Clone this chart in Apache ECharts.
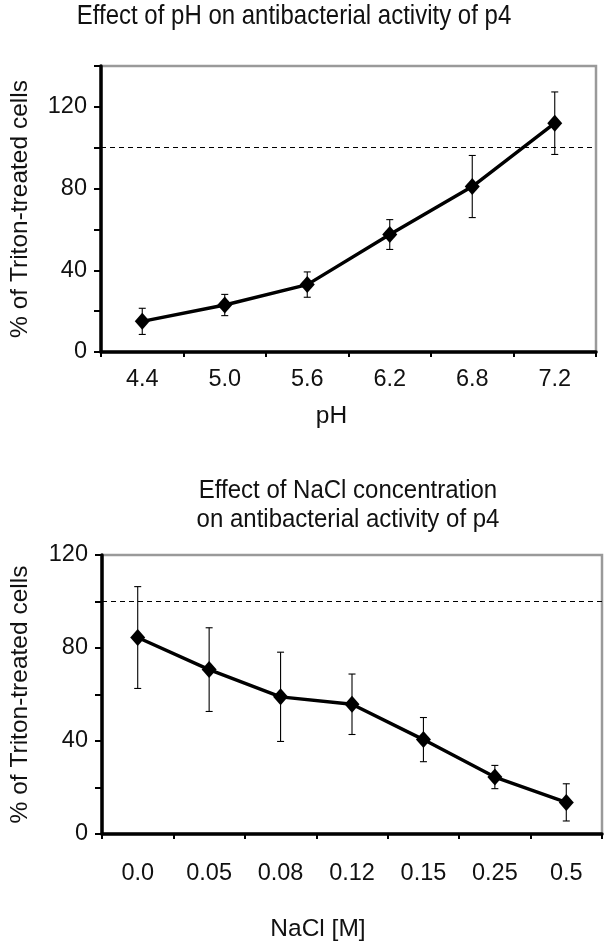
<!DOCTYPE html>
<html>
<head>
<meta charset="utf-8">
<script src="https://cdn.jsdelivr.net/npm/echarts@6/dist/echarts.min.js"></script>
<style>html,body{margin:0;padding:0;background:#fff;}#c{width:609px;height:951px;}</style>
</head>
<body>
<div id="c"></div>
<script>
var phCategories = ['4.4', '5.0', '5.6', '6.2', '6.8', '7.2'];
var phValues = [15, 23, 33, 57.5, 81, 112];
var phErrors = [6.4, 5.2, 6.2, 7.3, 15.2, 15.3];

var naclCategories = ['0.0', '0.05', '0.08', '0.12', '0.15', '0.25', '0.5'];
var naclValues = [84.5, 70.7, 59, 55.8, 40.6, 24.5, 13.6];
var naclErrors = [21.9, 18, 19.2, 13, 9.5, 5, 8];

var yLabelValues = [0, 40, 80, 120];
var referenceLevel = 100;

var FONT = 'Liberation Sans, Arial, sans-serif';
var TXT = '#111';

function errorSeries(idx, values, errors) {
  return {
    type: 'custom',
    xAxisIndex: idx, yAxisIndex: idx,
    z: 3,
    data: values.map(function (v, i) { return [i, v - errors[i], v + errors[i]]; }),
    renderItem: function (params, api) {
      var lo = api.coord([api.value(0), api.value(1)]);
      var hi = api.coord([api.value(0), api.value(2)]);
      var w = 3.5;
      var st = { stroke: '#000', lineWidth: 1.1 };
      return {
        type: 'group',
        children: [
          { type: 'line', shape: { x1: hi[0], y1: hi[1], x2: lo[0], y2: lo[1] }, style: st },
          { type: 'line', shape: { x1: hi[0] - w, y1: hi[1], x2: hi[0] + w, y2: hi[1] }, style: st },
          { type: 'line', shape: { x1: lo[0] - w, y1: lo[1], x2: lo[0] + w, y2: lo[1] }, style: st }
        ]
      };
    }
  };
}

function lineSeries(idx, values) {
  return {
    type: 'line',
    xAxisIndex: idx, yAxisIndex: idx,
    data: values,
    z: 4,
    symbol: 'diamond',
    symbolSize: [15, 17],
    itemStyle: { color: '#000' },
    lineStyle: { color: '#000', width: 3.4 },
    animation: false,
    markLine: {
      silent: true,
      symbol: 'none',
      label: { show: false },
      lineStyle: { color: '#000', width: 1, type: [5, 4] },
      data: [{ yAxis: referenceLevel }],
      animation: false
    }
  };
}

function xAxis(idx, cats, name, margin, gap, pad) {
  return {
    type: 'category', gridIndex: idx, data: cats,
    axisLine: { lineStyle: { color: '#000', width: 3.5 } },
    axisTick: { show: true, length: 5, lineStyle: { color: '#000', width: 2 } },
    axisLabel: { color: TXT, fontFamily: FONT, fontSize: 23.5, margin: margin },
    name: name, nameLocation: 'middle', nameGap: gap,
    nameTextStyle: { color: TXT, fontFamily: FONT, fontSize: 24.5, padding: pad }
  };
}

function yAxis(idx, max, gap) {
  return {
    type: 'value', gridIndex: idx, min: 0, max: max, interval: 20,
    splitLine: { show: false },
    axisLine: { show: true, lineStyle: { color: '#000', width: 3.5 } },
    axisTick: { show: true, length: 7, lineStyle: { color: '#000', width: 2 } },
    axisLabel: {
      color: TXT, fontFamily: FONT, fontSize: 23.5, margin: 14,
      formatter: function (v) { return yLabelValues.indexOf(v) >= 0 ? String(v) : ''; }
    },
    name: '% of Triton-treated cells', nameLocation: 'middle', nameGap: gap,
    nameTextStyle: { color: TXT, fontFamily: FONT, fontSize: 24.5 }
  };
}

var chart = echarts.init(document.getElementById('c'), null, { renderer: 'canvas' });
chart.setOption({
  animation: false,
  backgroundColor: '#fff',
  grid: [
    { left: 97, top: 66, width: 499, height: 286, show: true, borderColor: '#9a9a9a', borderWidth: 2.5, backgroundColor: 'transparent' },
    { left: 98, top: 555, width: 504, height: 279, show: true, borderColor: '#9a9a9a', borderWidth: 2.5, backgroundColor: 'transparent' }
  ],
  xAxis: [
    xAxis(0, phCategories, 'pH', 16, 52, [0, 34, 0, 0]),
    xAxis(1, naclCategories, 'NaCl [M]', 28, 83, [0, 68, 0, 0])
  ],
  yAxis: [
    yAxis(0, 140, 68),
    yAxis(1, 120, 69)
  ],
  graphic: [
    { type: 'text', x: 294, y: 17, scaleY: 1.12, style: { text: 'Effect of pH on antibacterial activity of p4', font: '24px ' + FONT, fill: TXT, align: 'center', verticalAlign: 'middle', textAlign: 'center', textVerticalAlign: 'middle' } },
    { type: 'text', x: 348, y: 505, scaleY: 1.1, style: { text: 'Effect of NaCl concentration\non antibacterial activity of p4', font: '24px ' + FONT, fill: TXT, lineHeight: 26, align: 'center', verticalAlign: 'middle', textAlign: 'center', textVerticalAlign: 'middle' } }
  ],
  series: [
    errorSeries(0, phValues, phErrors),
    lineSeries(0, phValues),
    errorSeries(1, naclValues, naclErrors),
    lineSeries(1, naclValues)
  ]
});
</script>
</body>
</html>
